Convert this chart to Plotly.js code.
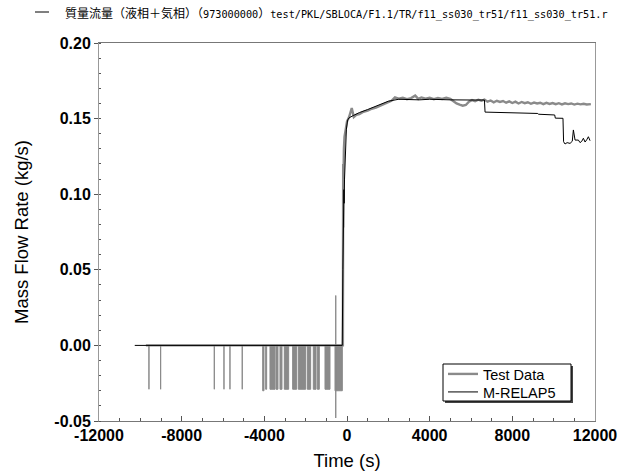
<!DOCTYPE html>
<html>
<head>
<meta charset="utf-8">
<script src="https://cdn.plot.ly/plotly-3.0.1.min.js"></script>
<style>html,body{margin:0;padding:0;background:#fff;}#chart{width:622px;height:474px;}</style>
</head>
<body>
<div id="chart"></div>
<script>
// ---- Data ----
const titleCJK1 = "質量流量（液相＋気相）（";
const titleNum = "973000000";
const titleCJK2 = "）";
const titlePath = "test/PKL/SBLOCA/F1.1/TR/f11_ss030_tr51/f11_ss030_tr51.r";
const seriesNames = ["Test Data", "M-RELAP5"];

// Test data (continuous part)
const testTime = [-9730, -200, -185, -175, -165, -150, -120, -60, 0, 100, 230, 330, 450, 600, 800, 1000, 1200, 1400, 1600, 1800, 2000, 2150, 2320, 2500, 2700, 2900, 3100, 3300, 3450, 3600, 3800, 4000, 4200, 4400, 4600, 4800, 5000, 5150, 5300, 5450, 5600, 5750, 5900, 6050, 6200, 6350, 6500, 6650, 6800, 6950, 7100, 7250, 7400, 7550, 7700, 7850, 8000, 8150, 8300, 8450, 8600, 8750, 8900, 9050, 9200, 9350, 9500, 9650, 9800, 9950, 10100, 10250, 10400, 10550, 10700, 10850, 11000, 11150, 11300, 11450, 11600, 11800];
const testFlow = [0, 0, 0.120, 0.078, 0.115, 0.130, 0.138, 0.143, 0.148, 0.151, 0.157, 0.151, 0.1525, 0.153, 0.1545, 0.1552, 0.1565, 0.1572, 0.1585, 0.1598, 0.1610, 0.1618, 0.1640, 0.1632, 0.1638, 0.1628, 0.1636, 0.1652, 0.1630, 0.1640, 0.1632, 0.1638, 0.1628, 0.1636, 0.1630, 0.1638, 0.1630, 0.1615, 0.1600, 0.1592, 0.1585, 0.1590, 0.1612, 0.1622, 0.1615, 0.1625, 0.1618, 0.1626, 0.1612, 0.1620, 0.1608, 0.1618, 0.1610, 0.1616, 0.1605, 0.1614, 0.1603, 0.1612, 0.1600, 0.1610, 0.1602, 0.1608, 0.1598, 0.1606, 0.1600, 0.1605, 0.1596, 0.1604, 0.1597, 0.1603, 0.1595, 0.1602, 0.1594, 0.1601, 0.1596, 0.1600, 0.1593, 0.1599, 0.1594, 0.1598, 0.1593, 0.1596];

// Test data spikes before time zero: start, end, low, top
const spikeStart = [-9583, -9018, -6421, -5953, -5663, -5069, -4080, -3936, -3727, -3436, -3243, -3033, -2630, -2356, -1920, -1630, -1436, -1065, -581, -545];
const spikeEnd   = [-9583, -9018, -6421, -5953, -5663, -5069, -4017, -3888, -3485, -3340, -3146, -2823, -2436, -2001, -1759, -1500, -1340, -823, -226, -545];
const spikeLow   = [-0.029, -0.029, -0.029, -0.029, -0.029, -0.029, -0.030, -0.029, -0.029, -0.029, -0.029, -0.029, -0.029, -0.029, -0.029, -0.029, -0.029, -0.029, -0.030, -0.048];
const spikeTop   = [0, 0, 0, 0, 0, 0, 0, 0, 0, 0, 0, 0, 0, 0, 0, 0, 0, 0, 0, 0.033];

// M-RELAP5
const calcTime = [-10270, -230, -200, -170, -150, -140, -120, -80, -30, 30, 100, 300, 600, 1000, 1500, 2000, 2500, 3000, 3500, 4000, 4500, 5000, 6000, 6650, 6680, 7500, 8500, 9230, 9260, 9800, 10050, 10080, 10450, 10480, 10551, 10650, 10793, 10900, 10954, 11035, 11196, 11277, 11360, 11438, 11519, 11600, 11680, 11761];
const calcFlow = [0, 0, 0.050, 0.095, 0.103, 0.094, 0.110, 0.130, 0.143, 0.149, 0.1505, 0.152, 0.154, 0.156, 0.159, 0.1615, 0.1628, 0.1626, 0.1624, 0.1628, 0.1625, 0.1624, 0.1623, 0.1623, 0.1543, 0.1541, 0.1537, 0.1534, 0.1529, 0.1526, 0.1524, 0.1503, 0.1502, 0.1347, 0.1332, 0.1341, 0.1336, 0.1350, 0.1425, 0.1358, 0.1358, 0.1341, 0.1350, 0.1370, 0.1345, 0.1360, 0.1380, 0.1354];

// x/y axes
const xTicks = [-12000, -8000, -4000, 0, 4000, 8000, 12000];
const yTicks = [-0.05, 0.00, 0.05, 0.10, 0.15, 0.20];

// ---- Build spike polygons ----
const sx = [], sy = [];
for (let i = 0; i < spikeStart.length; i++) {
  sx.push(spikeStart[i], spikeStart[i], spikeEnd[i], spikeEnd[i], spikeStart[i], null);
  sy.push(spikeTop[i], spikeLow[i], spikeLow[i], spikeTop[i], spikeTop[i], null);
}

const gray = '#8a8a8a';
const fontMain = 'Liberation Sans, Arial, sans-serif';
const cjkSpan = t => '<span style="font-family:\'Noto Sans CJK JP\';font-size:12px">' + t + '</span>';
const titleHTML = cjkSpan(titleCJK1) + titleNum + cjkSpan(titleCJK2) + titlePath;

const traces = [
  {x: sx, y: sy, type: 'scatter', mode: 'lines', fill: 'toself', fillcolor: gray,
   line: {color: gray, width: 1}, showlegend: false, hoverinfo: 'skip'},
  {x: testTime, y: testFlow, type: 'scatter', mode: 'lines', name: seriesNames[0],
   line: {color: gray, width: 2.4}, legend: 'legend'},
  {x: calcTime, y: calcFlow, type: 'scatter', mode: 'lines', name: seriesNames[1],
   line: {color: '#000', width: 1}, legend: 'legend2'}
];

const px = 1 / 496, py = 1 / 378;
const lx0 = (443 - 99) * px, lx1 = (571 - 99) * px, ly0 = (421 - 401) * py, ly1 = (421 - 364) * py;
const legCommon = {xanchor: 'left', yanchor: 'middle', bgcolor: 'rgba(0,0,0,0)', borderwidth: 0,
                   font: {family: fontMain, size: 14.5, color: '#000'}, itemwidth: 30};

const layout = {
  width: 622, height: 474,
  margin: {l: 99, r: 27, t: 43, b: 53},
  paper_bgcolor: '#fff', plot_bgcolor: '#fff',
  font: {family: fontMain, size: 16, color: '#000'},
  showlegend: true,
  legend: Object.assign({x: lx0, y: (421 - 374) * py}, legCommon),
  legend2: Object.assign({x: lx0, y: (421 - 392) * py}, legCommon),
  xaxis: {
    range: [-12000, 12000], tickvals: xTicks, ticktext: xTicks.map(String),
    ticks: 'inside', ticklen: 5, tickcolor: '#555',
    minor: {dtick: 1000, ticks: 'inside', ticklen: 3, tickcolor: '#555'},
    showgrid: false, zeroline: false,
    showline: true, linecolor: '#777', linewidth: 1, mirror: true,
    tickfont: {family: fontMain, size: 16, weight: 'bold'},
    title: {text: 'Time (s)', font: {family: fontMain, size: 18.5}, standoff: 10}
  },
  yaxis: {
    range: [-0.05, 0.20], tickvals: yTicks, ticktext: yTicks.map(v => v.toFixed(2)),
    ticks: 'outside', ticklen: 4, tickcolor: '#555',
    minor: {dtick: 0.01, ticks: 'inside', ticklen: 2, tickcolor: '#555'},
    showgrid: false, zeroline: false,
    showline: true, linecolor: '#999', linewidth: 1, mirror: true,
    tickfont: {family: fontMain, size: 16, weight: 'bold'},
    title: {text: 'Mass Flow Rate (kg/s)', font: {family: fontMain, size: 18.5}, standoff: 20}
  },
  annotations: [{
    xref: 'paper', yref: 'paper', x: (63 - 99) * px, y: (421 - 12) * py, xanchor: 'left', yanchor: 'middle',
    text: titleHTML, showarrow: false,
    font: {family: 'DejaVu Sans Mono, monospace', size: 10.2, color: '#000'}
  }],
  shapes: [
    {type: 'line', xref: 'paper', yref: 'paper', x0: (35 - 99) * px, x1: (49 - 99) * px,
     y0: (421 - 12) * py, y1: (421 - 12) * py, line: {color: '#000', width: 1}},
    {type: 'rect', xref: 'paper', yref: 'paper', layer: 'above',
     x0: lx0 + 2 * px, x1: lx1 + 2 * px, y0: ly0 - 2 * py, y1: ly1 - 2 * py,
     fillcolor: '#444', line: {width: 0}},
    {type: 'rect', xref: 'paper', yref: 'paper', layer: 'above',
     x0: lx0, x1: lx1, y0: ly0, y1: ly1,
     fillcolor: '#fff', line: {color: '#000', width: 1}}
  ]
};

Plotly.newPlot('chart', traces, layout, {displayModeBar: false, staticPlot: true});
</script>
</body>
</html>
